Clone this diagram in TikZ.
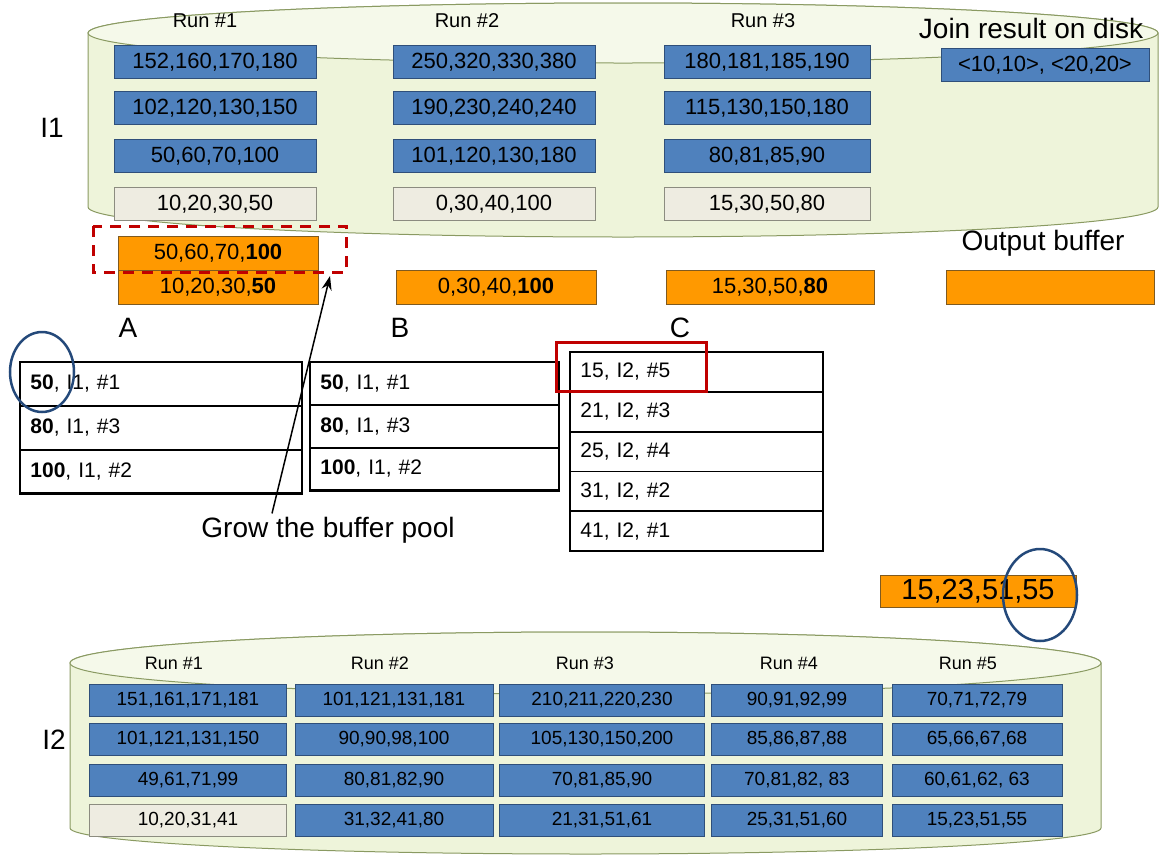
\documentclass[tikz,border=0pt]{standalone}
\usepackage{fontspec}
\setmainfont{Liberation Sans}
\usetikzlibrary{arrows.meta}

\definecolor{diskfill}{HTML}{EEF4DA}
\definecolor{disktop}{HTML}{F5F9EA}
\definecolor{diskline}{HTML}{8A9A62}
\definecolor{pageblue}{HTML}{4F81BD}
\definecolor{pageedge}{HTML}{2F4F7A}
\definecolor{pagegray}{HTML}{EEECE1}
\definecolor{pagegrayedge}{HTML}{8C8C80}
\definecolor{bufor}{HTML}{FF9900}
\definecolor{bufedge}{HTML}{7F5A20}
\definecolor{markred}{HTML}{C00000}
\definecolor{markblue}{HTML}{24497A}

\tikzset{
  runpage/.style={draw=pageedge, fill=pageblue, line width=0.8pt, minimum width=202pt,
    minimum height=33pt, inner sep=0pt, font=\fontsize{22}{26}\selectfont},
  curpage/.style={runpage, draw=pagegrayedge, fill=pagegray},
  lowpage/.style={runpage, minimum height=32pt, font=\fontsize{19}{23}\selectfont},
  lowcur/.style={lowpage, draw=pagegrayedge, fill=pagegray},
  bufpage/.style={draw=bufedge, fill=bufor, line width=0.8pt, minimum width=200pt,
    minimum height=34pt, inner sep=0pt, font=\fontsize{22}{26}\selectfont},
  heaprow/.style={draw, line width=0.8pt, minimum height=43pt, align=left, inner xsep=10pt,
    inner ysep=0pt, anchor=north west, font=\fontsize{21}{25}\selectfont},
  runlbl/.style={font=\fontsize{20}{24}\selectfont},
  lowlbl/.style={font=\fontsize{18}{22}\selectfont},
  bigtxt/.style={font=\fontsize{28}{32}\selectfont}
}

\begin{document}
\begin{tikzpicture}[x=1pt,y=1pt]
  \useasboundingbox (0,0) rectangle (1160,-855);

  % Disk I1
  \filldraw[fill=diskfill,draw=diskline,line width=1pt] (88,-33) -- (88,-207)
    arc[start angle=180,end angle=360,x radius=535pt,y radius=30pt] -- (1158,-33)
    arc[start angle=0,end angle=180,x radius=535pt,y radius=30pt] -- cycle;
  \filldraw[fill=disktop,draw=diskline,line width=1pt] (623,-33) ellipse[x radius=535pt,y radius=30pt];

  \node[runlbl] (t1) at (205,-21) {Run \#1};
  \node[runlbl] (t2) at (467,-21) {Run \#2};
  \node[runlbl] (t3) at (763,-21) {Run \#3};
  \node[bigtxt] (i1) at (52,-128) {I1};
  \node[bigtxt] (join) at (1031,-28) {Join result on disk};

  \node[runpage] (p11) at (215,-62) {152,160,170,180};
  \node[runpage] (p12) at (215,-108) {102,120,130,150};
  \node[runpage] (p13) at (215,-156) {50,60,70,100};
  \node[curpage] (p14) at (215,-204) {10,20,30,50};

  \node[runpage] (p21) at (494,-62) {250,320,330,380};
  \node[runpage] (p22) at (494,-108) {190,230,240,240};
  \node[runpage] (p23) at (494,-156) {101,120,130,180};
  \node[curpage] (p24) at (494,-204) {0,30,40,100};

  \node[runpage,minimum width=206pt] (p31) at (767,-62) {180,181,185,190};
  \node[runpage,minimum width=206pt] (p32) at (767,-108) {115,130,150,180};
  \node[runpage,minimum width=206pt] (p33) at (767,-156) {80,81,85,90};
  \node[curpage,minimum width=206pt] (p34) at (767,-204) {15,30,50,80};

  \node[runpage,minimum width=208pt] (res) at (1045,-65) {<10,10>, <20,20>};

  % Input and output buffers
  \node[bufpage] (bufa2) at (218,-253) {50,60,70,\textbf{100}};
  \node[bufpage] (bufa1) at (218,-287) {10,20,30,\textbf{50}};
  \node[bufpage] (bufb) at (496,-287) {0,30,40,\textbf{100}};
  \node[bufpage,minimum width=208pt] (bufc) at (770,-287) {15,30,50,\textbf{80}};
  \node[bufpage,minimum width=208pt] (bufout) at (1050,-287) {};
  \node[bigtxt] (outlbl) at (1043,-243) {Output buffer};

  \draw[markred,line width=3pt,dash pattern=on 11pt off 8pt] (93,-226) rectangle (346,-272);

  \node[bigtxt] (la) at (128,-328) {A};
  \node[bigtxt] (lb) at (400,-328) {B};
  \node[bigtxt] (lc) at (680,-328) {C};

  % Heap A
  \node[heaprow,text width=261pt] (ha1) at (20,-362) {\textbf{50}, I1, \#1};
  \node[heaprow,text width=261pt] (ha2) at (ha1.south west) {\textbf{80}, I1, \#3};
  \node[heaprow,text width=261pt] (ha3) at (ha2.south west) {\textbf{100}, I1, \#2};
  \draw[line width=2.5pt] (ha1.north west) rectangle (ha3.south east);

  % Heap B
  \node[heaprow,text width=228pt,minimum height=42pt] (hb1) at (310,-362) {\textbf{50}, I1, \#1};
  \node[heaprow,text width=228pt,minimum height=42pt] (hb2) at (hb1.south west) {\textbf{80}, I1, \#3};
  \node[heaprow,text width=228pt,minimum height=42pt] (hb3) at (hb2.south west) {\textbf{100}, I1, \#2};
  \draw[line width=2.5pt] (hb1.north west) rectangle (hb3.south east);

  % Heap C
  \node[heaprow,text width=232pt,minimum height=39pt] (hc1) at (570,-352) {15, I2, \#5};
  \node[heaprow,text width=232pt,minimum height=39pt] (hc2) at (hc1.south west) {21, I2, \#3};
  \node[heaprow,text width=232pt,minimum height=39pt] (hc3) at (hc2.south west) {25, I2, \#4};
  \node[heaprow,text width=232pt,minimum height=39pt] (hc4) at (hc3.south west) {31, I2, \#2};
  \node[heaprow,text width=232pt,minimum height=39pt] (hc5) at (hc4.south west) {41, I2, \#1};
  \draw[line width=2.5pt] (hc1.north west) rectangle (hc5.south east);

  \draw[markred,line width=3pt] (556,-342) rectangle (706,-391);
  \draw[markblue,line width=2.5pt] (42,-372) ellipse[x radius=32pt,y radius=40pt];

  % Grow arrow
  \node[bigtxt] (grow) at (328,-530) {Grow the buffer pool};
  \coordinate (growtip) at (330,-276);
  \draw[line width=1.5pt,-{Stealth[length=14pt,width=10pt]}] ([xshift=-56pt]grow.north) -- (growtip);

  % Page of I2 in memory
  \node[bufpage,minimum width=196pt,minimum height=32pt,font=\fontsize{29}{32}\selectfont] (bufi2) at (978,-591) {15,23,51,55};
  \draw[markblue,line width=2.5pt] (1040,-595) ellipse[x radius=37pt,y radius=46pt];

  % Disk I2
  \filldraw[fill=diskfill,draw=diskline,line width=1pt] (70,-663) -- (70,-828)
    arc[start angle=180,end angle=360,x radius=515.5pt,y radius=26pt] -- (1101,-663)
    arc[start angle=0,end angle=180,x radius=515.5pt,y radius=31pt] -- cycle;
  \filldraw[fill=disktop,draw=diskline,line width=1pt] (585.5,-663) ellipse[x radius=515.5pt,y radius=31pt];

  \node[bigtxt] (i2) at (54,-740) {I2};
  \node[lowlbl] (s1) at (174,-663) {Run \#1};
  \node[lowlbl] (s2) at (380,-663) {Run \#2};
  \node[lowlbl] (s3) at (585,-663) {Run \#3};
  \node[lowlbl] (s4) at (789,-663) {Run \#4};
  \node[lowlbl] (s5) at (968,-663) {Run \#5};

  \node[lowpage,minimum width=197pt] (q11) at (188,-700) {151,161,171,181};
  \node[lowpage,minimum width=197pt] (q12) at (188,-739) {101,121,131,150};
  \node[lowpage,minimum width=197pt] (q13) at (188,-780) {49,61,71,99};
  \node[lowcur,minimum width=197pt] (q14) at (188,-820) {10,20,31,41};

  \node[lowpage,minimum width=198pt] (q21) at (394,-700) {101,121,131,181};
  \node[lowpage,minimum width=198pt] (q22) at (394,-739) {90,90,98,100};
  \node[lowpage,minimum width=198pt] (q23) at (394,-780) {80,81,82,90};
  \node[lowpage,minimum width=198pt] (q24) at (394,-820) {31,32,41,80};

  \node[lowpage,minimum width=205pt] (q31) at (602,-700) {210,211,220,230};
  \node[lowpage,minimum width=205pt] (q32) at (602,-739) {105,130,150,200};
  \node[lowpage,minimum width=205pt] (q33) at (602,-780) {70,81,85,90};
  \node[lowpage,minimum width=205pt] (q34) at (602,-820) {21,31,51,61};

  \node[lowpage,minimum width=171pt] (q41) at (797,-700) {90,91,92,99};
  \node[lowpage,minimum width=171pt] (q42) at (797,-739) {85,86,87,88};
  \node[lowpage,minimum width=171pt] (q43) at (797,-780) {70,81,82, 83};
  \node[lowpage,minimum width=171pt] (q44) at (797,-820) {25,31,51,60};

  \node[lowpage,minimum width=170pt] (q51) at (977,-700) {70,71,72,79};
  \node[lowpage,minimum width=170pt] (q52) at (977,-739) {65,66,67,68};
  \node[lowpage,minimum width=170pt] (q53) at (977,-780) {60,61,62, 63};
  \node[lowpage,minimum width=170pt] (q54) at (977,-820) {15,23,51,55};
\end{tikzpicture}
\end{document}
